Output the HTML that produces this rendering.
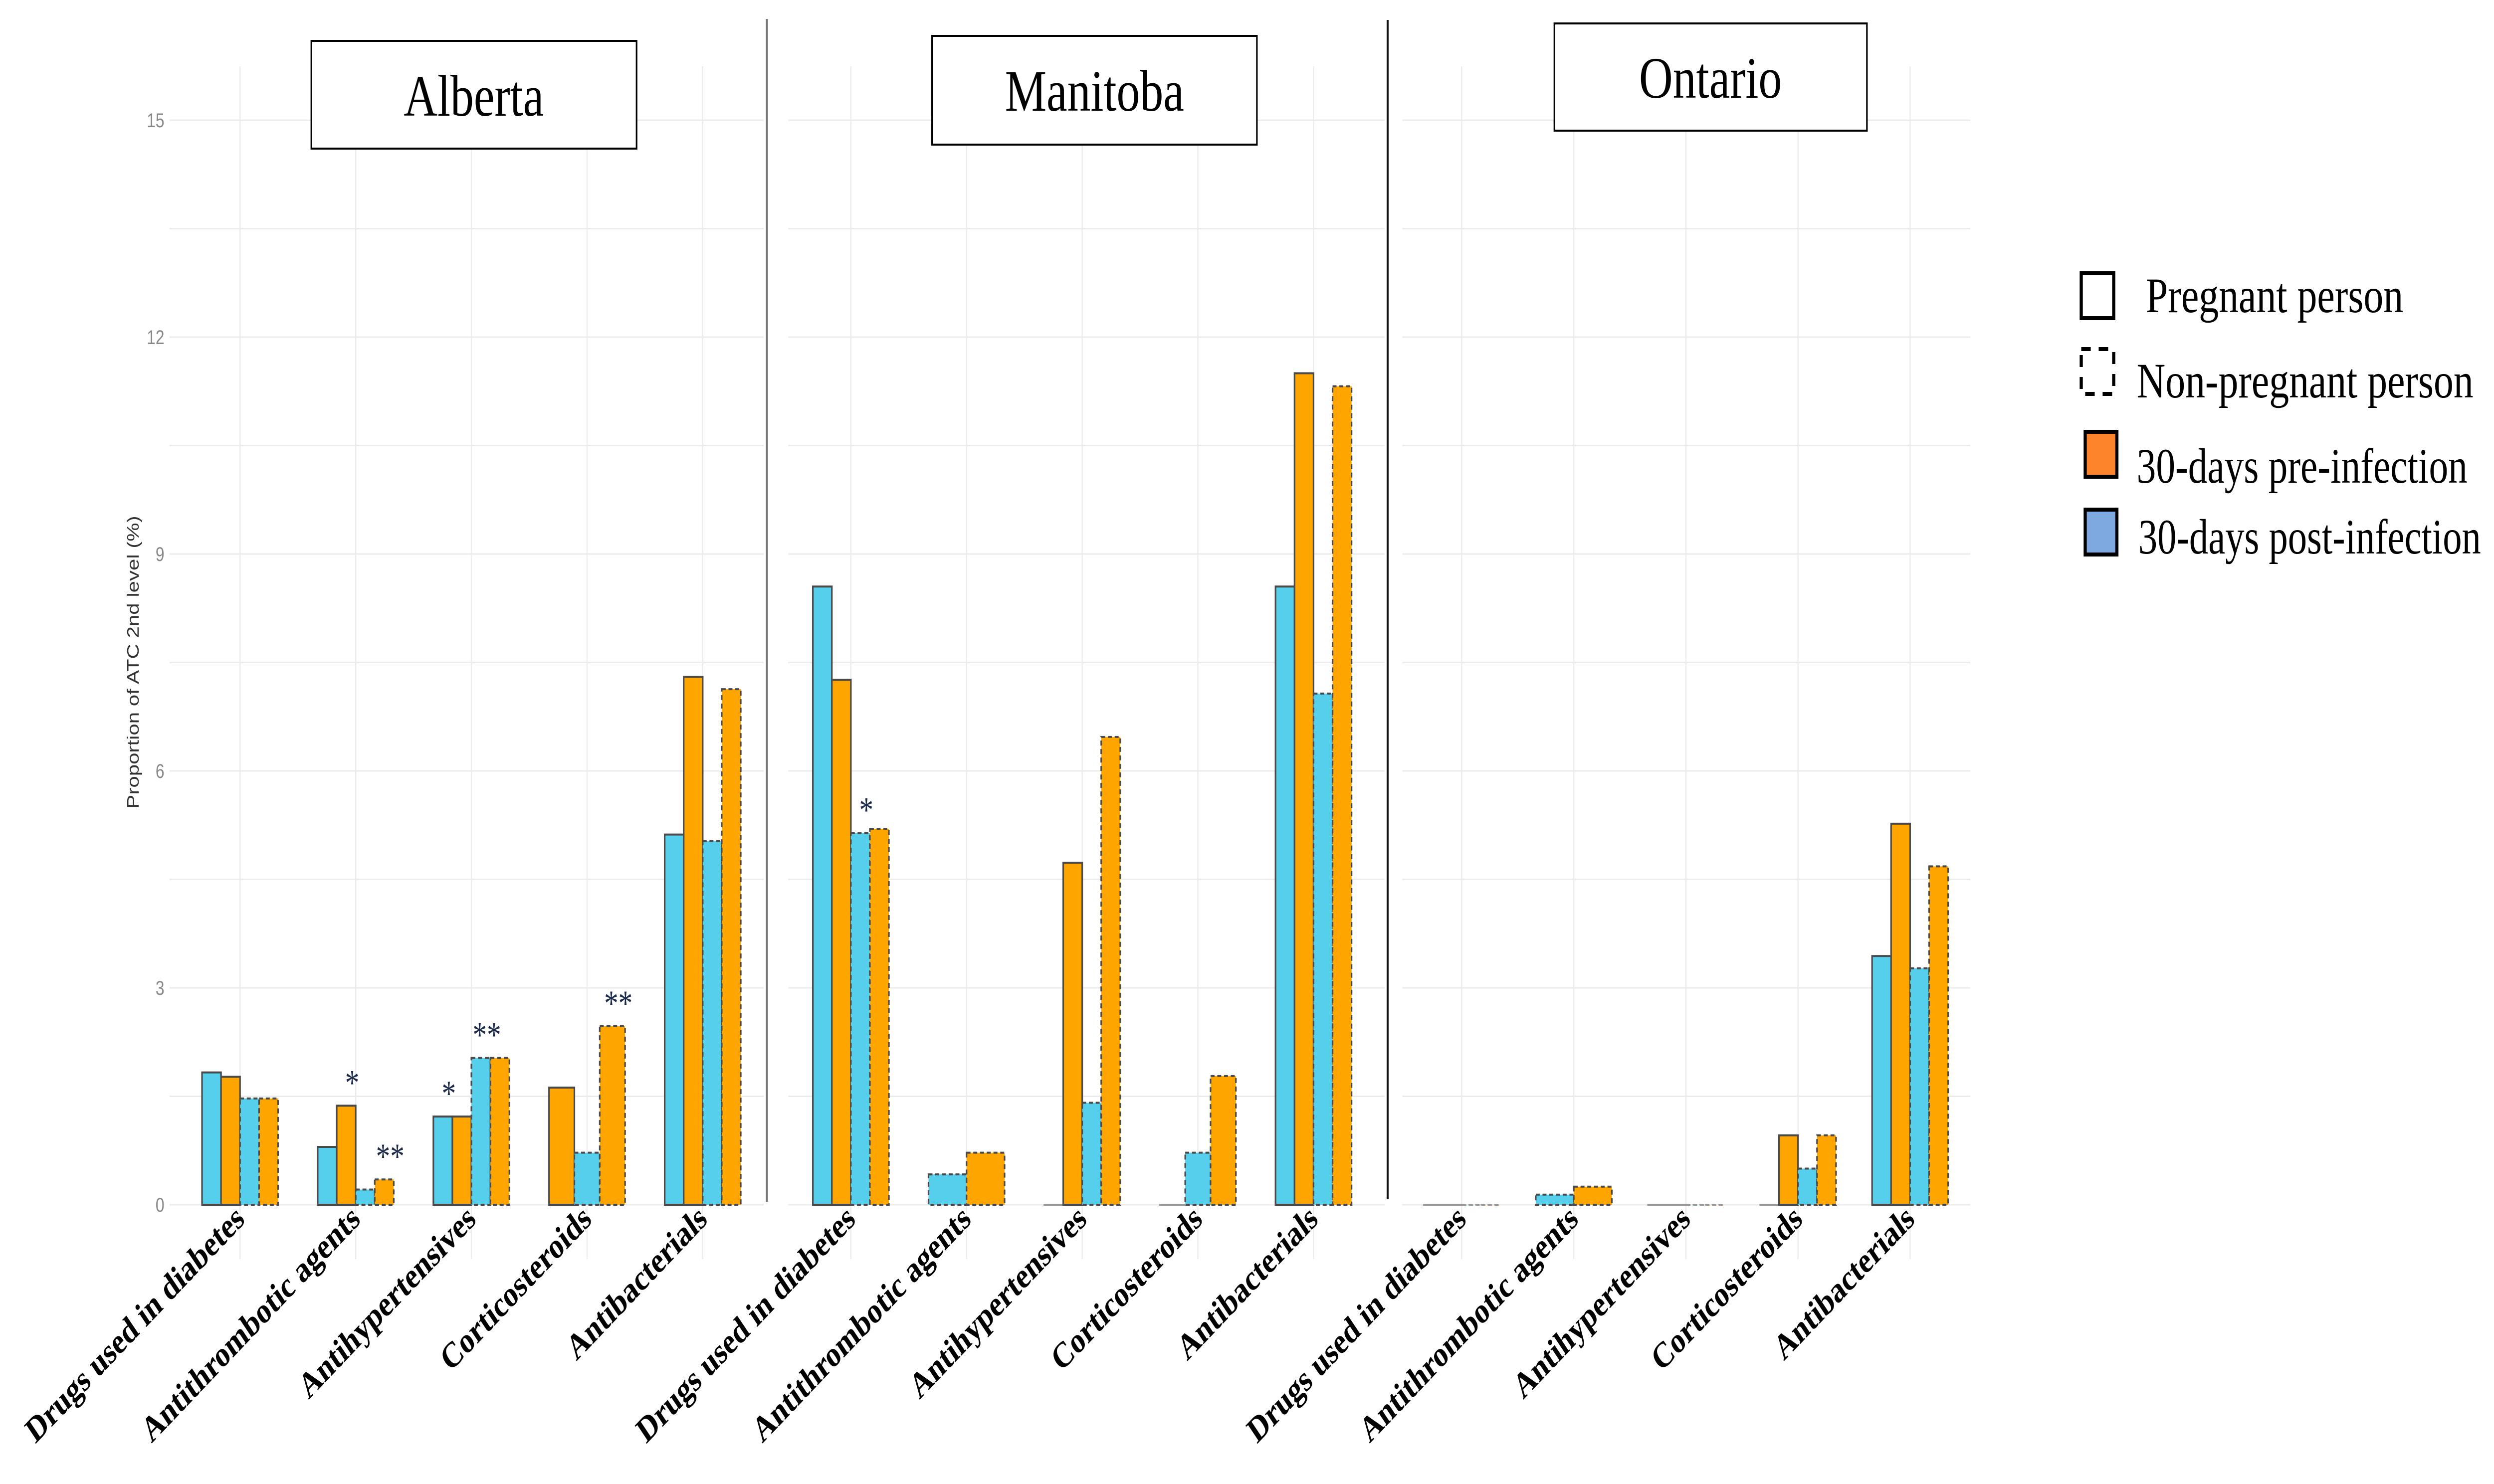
<!DOCTYPE html>
<html><head><meta charset="utf-8"><style>
html,body{margin:0;padding:0;background:#fff;overflow:hidden;width:100%;height:100%;}
svg{display:block;width:100vw;height:100vh;}
</style></head><body>
<svg id="chart" xmlns="http://www.w3.org/2000/svg" viewBox="0 0 6296 2976" preserveAspectRatio="none">
<g id="grid"></g>
<g id="bars"></g>
<g id="ann"></g>
<g id="xlab"></g>
<g id="ylab"></g>
<line x1="1936" y1="38" x2="1936" y2="2410" stroke="#777" stroke-width="5"/>
<line x1="3503" y1="40" x2="3503" y2="2405" stroke="#111" stroke-width="5"/>
<text transform="translate(350,1328) rotate(-90)" text-anchor="middle" font-family="Liberation Sans, sans-serif" font-size="42" fill="#333">Proportion of ATC 2nd level (%)</text>
<g>
<rect x="786" y="82" width="821" height="216" fill="#fff" stroke="#000" stroke-width="4"/>
<text x="1196" y="232" text-anchor="middle" font-family="Liberation Serif, serif" font-size="118">Alberta</text></g>
<g>
<rect x="2353" y="72" width="820" height="218" fill="#fff" stroke="#000" stroke-width="4"/>
<text x="2763" y="222" text-anchor="middle" font-family="Liberation Serif, serif" font-size="118">Manitoba</text></g>
<g>
<rect x="3924" y="47" width="789" height="215" fill="#fff" stroke="#000" stroke-width="4"/>
<text x="4318" y="196" text-anchor="middle" font-family="Liberation Serif, serif" font-size="118">Ontario</text></g>
<g>
<g>
<rect x="5254" y="548" width="82" height="90" fill="#fff" stroke="#000" stroke-width="8"/>
<text x="5417" y="626" font-family="Liberation Serif, serif" font-size="100" textLength="650" lengthAdjust="spacingAndGlyphs">Pregnant person</text></g>
<g>
<rect x="5254" y="700" width="82" height="90" fill="#fff" stroke="#000" stroke-width="8" stroke-dasharray="24,20"/>
<text x="5394" y="797" font-family="Liberation Serif, serif" font-size="100" textLength="850" lengthAdjust="spacingAndGlyphs">Non-pregnant person</text></g>
<g>
<rect x="5264" y="866" width="80" height="90" fill="#fd842a" stroke="#000" stroke-width="8"/>
<text x="5394" y="968" font-family="Liberation Serif, serif" font-size="100" textLength="835" lengthAdjust="spacingAndGlyphs">30-days pre-infection</text></g>
<g>
<rect x="5264" y="1022" width="80" height="90" fill="#7ea8e0" stroke="#000" stroke-width="8"/>
<text x="5398" y="1110" font-family="Liberation Serif, serif" font-size="100" textLength="865" lengthAdjust="spacingAndGlyphs">30-days post-infection</text></g>
</g>
</svg>
<script>
const categories = ["Drugs used in diabetes","Antithrombotic agents","Antihypertensives","Corticosteroids","Antibacterials"];
const provinces = ["Alberta","Manitoba","Ontario"];
const seriesNames = ["pregnant-post","pregnant-pre","nonpregnant-post","nonpregnant-pre"];
// values per province: [category][series] ; null = bar absent
const albertaValues = [[1.83,1.77,1.47,1.47],[0.8,1.37,0.21,0.35],[1.22,1.22,2.03,2.03],[null,1.62,0.72,2.47],[5.12,7.30,5.03,7.13]];
const manitobaValues = [[8.55,7.26,5.14,5.2],[null,null,0.42,0.72],[0,4.73,1.41,6.47],[0,null,0.72,1.78],[8.55,11.5,7.07,11.32]];
const ontarioValues = [[0,0,0,0],[null,null,0.14,0.25],[0,0,0,0],[0,0.96,0.5,0.96],[3.44,5.27,3.27,4.68]];
const yTicks = [0,3,6,9,12,15];
const yTickLabels = ["0","3","6","9","12","15"];
const annotations = [[0,1,1,"*"],[0,1,3,"**"],[0,2,0,"*"],[0,2,2,"**"],[0,3,3,"**"],[1,0,2,"*"]];

const NS="http://www.w3.org/2000/svg";
const allValues=[albertaValues,manitobaValues,ontarioValues];
const panelFirst=[606,2148,3690], panelStep=[292,292,283];
const panelX0=[428,1990,3540], panelX1=[1936,3503,4982];
const Y0=2416, YPER=145;
function y(v){return Y0-v*YPER;}
function xc(p,k){return panelFirst[p]+k*panelStep[p];}
const GROUP=192;
function mk(tag,attrs,parent){const e=document.createElementNS(NS,tag);for(const k in attrs)e.setAttribute(k,attrs[k]);parent.appendChild(e);return e;}
const grid=document.getElementById('grid'),bars=document.getElementById('bars'),ann=document.getElementById('ann'),xlab=document.getElementById('xlab'),ylab=document.getElementById('ylab');
const barPos={};
for(let p=0;p<3;p++){
  for(let v=0;v<=15.001;v+=1.5){
    const l=mk('line',{x1:panelX0[p],x2:panelX1[p]-8,y1:y(v),y2:y(v),stroke:'#ececec','stroke-width':3},grid);
    
    
  }
  for(let k=0;k<categories.length;k++){
    const l=mk('line',{x1:xc(p,k),x2:xc(p,k),y1:133,y2:2525,stroke:'#ececec','stroke-width':3},grid);
    
    
    const vals=allValues[p][k];
    const present=[];vals.forEach((val,i)=>{if(val!==null)present.push(i);});
    const w=GROUP/present.length;
    present.forEach((i,j)=>{
      const x=xc(p,k)-GROUP/2+j*w, val=vals[i];
      barPos[p+'-'+k+'-'+i]=[x+w/2,y(val)];
      const blue=(i%2===0), dashed=(i>=2);
      const attrs={x:x,y:y(val),width:w,height:Math.max(val*YPER,0.5),fill:blue?'#56cfec':'#ffa500',stroke:val===0?'#999':'#4a4a4a','stroke-width':val===0?3:4};
      if(dashed)attrs['stroke-dasharray']='10,7';
      const r=mk('rect',attrs,bars);
      
      
    });
    const t=mk('text',{x:0,y:0,transform:'translate('+(xc(p,k)+15)+',2450) rotate(-40)','text-anchor':'end','font-family':'Liberation Serif, serif','font-weight':'bold','font-size':72},xlab);
    t.textContent=categories[k];
    
    
  }
}
yTicks.forEach((v,i)=>{
  const t=mk('text',{x:415,y:y(v)+14,'text-anchor':'end','font-family':'Liberation Sans, sans-serif','font-size':40,fill:'#888'},ylab);
  t.textContent=yTickLabels[i];
  
  
});
annotations.forEach(a=>{
  const pos=barPos[a[0]+'-'+a[1]+'-'+a[2]];
  if(!pos)return;
  const t=mk('text',{x:pos[0]+15,y:pos[1]-22,'text-anchor':'middle','font-family':'Liberation Serif, serif','font-size':72,fill:'#1d2b4a'},ann);
  t.textContent=a[3];
  
  
});
</script>
</body></html>
